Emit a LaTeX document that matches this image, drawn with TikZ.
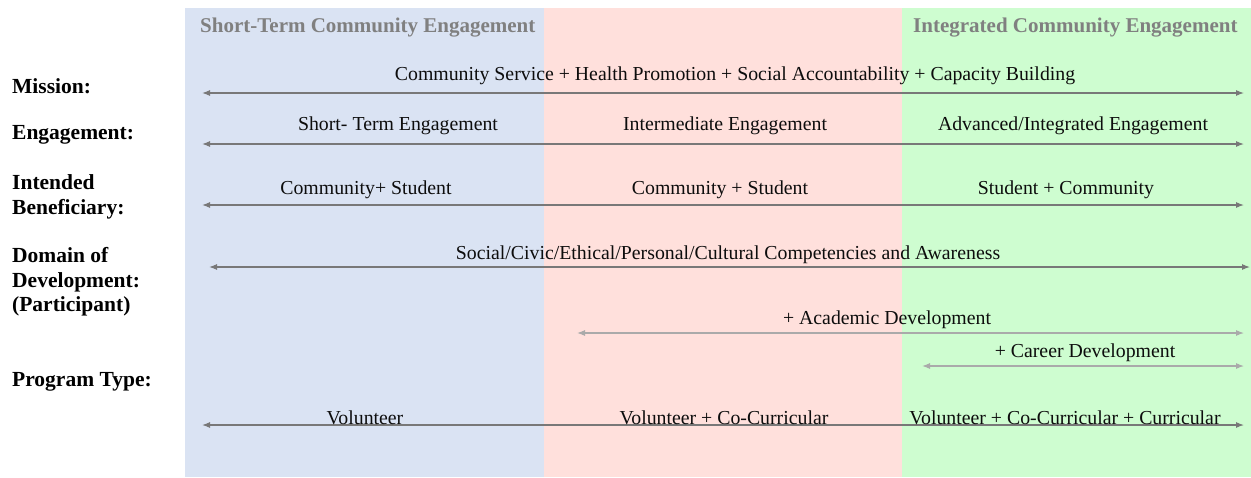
\documentclass[tikz,border=0pt]{standalone}
\usepackage{fontspec}
\setmainfont{Liberation Serif}
\usetikzlibrary{arrows.meta}
\definecolor{bandblue}{RGB}{218,227,243}
\definecolor{bandpink}{RGB}{255,224,220}
\definecolor{bandgreen}{RGB}{206,253,208}
\definecolor{headgray}{RGB}{128,128,128}
\definecolor{arrowgray}{RGB}{120,120,120}
\definecolor{lightarrow}{RGB}{170,170,170}
\tikzset{
  rowlabel/.style={anchor=west, font=\fontsize{21.5}{24.5}\selectfont\bfseries, align=left, inner sep=0pt, text=black},
  header/.style={anchor=west, font=\fontsize{21}{24}\selectfont\bfseries, text=headgray, inner sep=0pt},
  itemtext/.style={font=\fontsize{19.8}{23}\selectfont, inner sep=0pt, text=black!95},
  span/.style={draw=arrowgray, line width=1.1pt, {Latex[length=8pt,width=6pt]}-{Latex[length=8pt,width=6pt]}},
  lightspan/.style={draw=lightarrow, line width=1.1pt, {Latex[length=8pt,width=6pt]}-{Latex[length=8pt,width=6pt]}}
}
\begin{document}
\begin{tikzpicture}[x=1pt,y=-1pt]
\useasboundingbox (0,0) rectangle (1251,477);
% coloured bands
\fill[bandblue]  (185,8) rectangle (544,477);
\fill[bandpink]  (544,8) rectangle (902,477);
\fill[bandgreen] (902,8) rectangle (1251,477);

% band headers
\node[header] (hshort) at (200,27.5) {Short-Term Community Engagement};
\node[header] (hint) at (913,27.5) {Integrated Community Engagement};

% row labels
\node[rowlabel] (lmission) at (12,86) {Mission:};
\node[rowlabel] (lengage) at (12,135) {Engagement:};
\node[rowlabel] (lbenef) at (12,197) {Intended\\Beneficiary:};
\node[rowlabel] (ldomain) at (12,282) {Domain of\\Development:\\(Participant)};
\node[rowlabel] (lprog) at (12,382) {Program Type:};

% arrow end points
\coordinate (m1) at (202,93);  \coordinate (m2) at (1244,93);
\coordinate (e1) at (202,144); \coordinate (e2) at (1244,144);
\coordinate (b1) at (202,205); \coordinate (b2) at (1244,205);
\coordinate (d1) at (209,267); \coordinate (d2) at (1250,267);
\coordinate (a1) at (577,333); \coordinate (a2) at (1244,333);
\coordinate (c1) at (922,366); \coordinate (c2) at (1244,366);
\coordinate (p1) at (202,425); \coordinate (p2) at (1244,425);

\draw[span] (m1) -- (m2);
\draw[span] (e1) -- (e2);
\draw[span] (b1) -- (b2);
\draw[span] (d1) -- (d2);
\draw[lightspan] (a1) -- (a2);
\draw[lightspan] (c1) -- (c2);
\draw[span] (p1) -- (p2);

% row texts
\node[itemtext] (tmission) at (735,75.5) {Community Service + Health Promotion + Social Accountability + Capacity Building};
\node[itemtext] (te1) at (398,125.5) {Short- Term Engagement};
\node[itemtext] (te2) at (725,125.5) {Intermediate Engagement};
\node[itemtext] (te3) at (1073,125.5) {Advanced/Integrated Engagement};
\node[itemtext] (tb1) at (366,189.5) {Community+ Student};
\node[itemtext] (tb2) at (720,189.5) {Community + Student};
\node[itemtext] (tb3) at (1066,189.5) {Student + Community};
\node[itemtext] (tdomain) at (728,254.5) {Social/Civic/Ethical/Personal/Cultural Competencies and Awareness};
\node[itemtext] (tacad) at (887,319.5) {+ Academic Development};
\node[itemtext] (tcareer) at (1085,352.5) {+ Career Development};
\node[itemtext] (tp1) at (365,417.5) {Volunteer};
\node[itemtext] (tp2) at (724,417.5) {Volunteer + Co-Curricular};
\node[itemtext] (tp3) at (1065,417.5) {Volunteer + Co-Curricular + Curricular};
\end{tikzpicture}
\end{document}
